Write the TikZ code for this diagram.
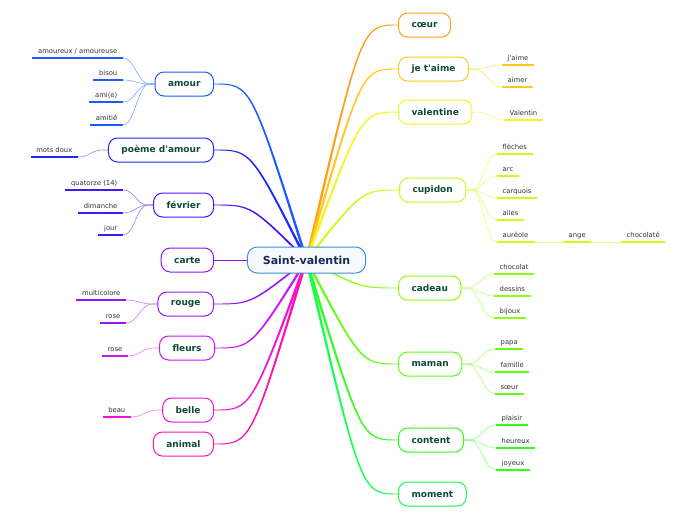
\documentclass[tikz,border=0pt]{standalone}
\usepackage{fontspec}
\setmainfont{DejaVu Sans}
\usetikzlibrary{calc}
\pgfdeclarelayer{bg}
\pgfsetlayers{bg,main}
\definecolor{nodetext}{HTML}{0E4A3A}
\definecolor{svtext}{HTML}{172A55}
\definecolor{svborder}{HTML}{3D8FD6}
\definecolor{svfill}{HTML}{F7FAFD}
\definecolor{leaftext}{HTML}{333333}
\definecolor{ccoeur}{HTML}{FF9F1C}
\definecolor{cjet}{HTML}{FFC81C}
\definecolor{cval}{HTML}{F5F520}
\definecolor{ccup}{HTML}{C8FF14}
\definecolor{ccad}{HTML}{8CFF14}
\definecolor{cmam}{HTML}{60FF14}
\definecolor{ccon}{HTML}{2EFF14}
\definecolor{cmom}{HTML}{14FF50}
\definecolor{camour}{HTML}{1E5AFF}
\definecolor{cpoeme}{HTML}{1E28FF}
\definecolor{cfev}{HTML}{4A14FF}
\definecolor{ccarte}{HTML}{8C14FF}
\definecolor{crouge}{HTML}{9A14FF}
\definecolor{cfleurs}{HTML}{CC14FF}
\definecolor{cbelle}{HTML}{F014DC}
\definecolor{canimal}{HTML}{FF14AA}
\tikzset{
  topic/.style={draw=#1, line width=1pt, rounded corners=9pt, fill=white,
    minimum height=24pt, inner xsep=13pt, inner ysep=0pt,
    font=\bfseries\fontsize{9}{11}\selectfont, text=nodetext},
  central/.style={draw=svborder, line width=1pt, rounded corners=10pt, fill=svfill,
    minimum height=26pt, inner xsep=15.5pt, font=\bfseries\fontsize{11}{13}\selectfont, text=svtext},
  leaf/.style={inner xsep=5.5pt, inner ysep=3pt, text height=5pt, text depth=1.5pt,
    font=\fontsize{6.8}{8}\selectfont, text=leaftext},
  uline/.style={draw=#1, line width=1.6pt},
  twig/.style={draw=#1!55, line width=0.6pt},
}
\newcommand\leafL[5]{%
  \node[leaf, anchor=south east] (#1) at (#2) {#3};
  \draw[uline=#4] (#1.south west) -- (#1.south east);
  \begin{pgfonlayer}{bg}
  \draw[twig=#4] (#5.west) -- ++(-5,0) .. controls +(-12,0) and +(12,0) .. (#1.south east);
  \end{pgfonlayer}}
\newcommand\leafR[5]{%
  \node[leaf, anchor=south west] (#1) at (#2) {#3};
  \draw[uline=#4] (#1.south west) -- (#1.south east);
  \begin{pgfonlayer}{bg}
  \draw[twig=#4] (#5.east) -- ++(5,0) .. controls +(12,0) and +(-12,0) .. (#1.south west);
  \end{pgfonlayer}}
\newcommand\mainbranch[4]{%
  \begin{pgfonlayer}{bg}
  \fill[#2] let \p1=(sv.center), \p2=(#1), \p3=({\x1+0.6*(\x2-\x1)},\y2) in
    ({\x1-(#3)*1.4pt},\y1) .. controls ({\x3-(#3)*0.55pt},{\y3+(#4)*0.55pt}) .. (\x2,{\y2+(#4)*0.45pt})
    -- (\x2,{\y2-(#4)*0.45pt}) .. controls ({\x3+(#3)*0.55pt},{\y3-(#4)*0.55pt}) .. ({\x1+(#3)*1.4pt},\y1) -- cycle;
  \end{pgfonlayer}}
\begin{document}
\begin{tikzpicture}[x=1pt,y=-1pt]
\begin{pgfonlayer}{bg}
\fill[white] (0,0) rectangle (696,520);
\end{pgfonlayer}
\useasboundingbox (0,0) rectangle (696,520);
% central
\node[central] (sv) at (306.5,260) {Saint-valentin};
% right topics
\node[topic=ccoeur, anchor=west] (coeur) at (398,25) {cœur};
\node[topic=cjet, anchor=west] (jet) at (398,69) {je t\textquotesingle aime};
\node[topic=cval, anchor=west] (val) at (398,112) {valentine};
\node[topic=ccup, anchor=west] (cup) at (399,190) {cupidon};
\node[topic=ccad, anchor=west] (cad) at (398,288) {cadeau};
\node[topic=cmam, anchor=west] (mam) at (398,364) {maman};
\node[topic=ccon, anchor=west] (con) at (398,440) {content};
\node[topic=cmom, anchor=west] (mom) at (398,494) {moment};
% left topics
\node[topic=camour, anchor=east] (amour) at (214,84) {amour};
\node[topic=cpoeme, anchor=east] (poeme) at (214,150) {poème d\textquotesingle amour};
\node[topic=cfev, anchor=east] (fev) at (214,205) {février};
\node[topic=ccarte, anchor=east] (carte) at (214,260) {carte};
\node[topic=crouge, anchor=east] (rouge) at (214,304) {rouge};
\node[topic=cfleurs, anchor=east] (fleurs) at (215,348) {fleurs};
\node[topic=cbelle, anchor=east] (belle) at (214,410) {belle};
\node[topic=canimal, anchor=east] (animal) at (214,444) {animal};
% main branches
\mainbranch{coeur.west}{ccoeur}{1}{1}
\mainbranch{jet.west}{cjet}{1}{1}
\mainbranch{val.west}{cval}{1}{1}
\mainbranch{cup.west}{ccup}{1}{1}
\mainbranch{cad.west}{ccad}{1}{-1}
\mainbranch{mam.west}{cmam}{1}{-1}
\mainbranch{con.west}{ccon}{1}{-1}
\mainbranch{mom.west}{cmom}{1}{-1}
\mainbranch{amour.east}{camour}{-1}{1}
\mainbranch{poeme.east}{cpoeme}{-1}{1}
\mainbranch{fev.east}{cfev}{-1}{1}
\mainbranch{rouge.east}{crouge}{-1}{-1}
\mainbranch{fleurs.east}{cfleurs}{-1}{-1}
\mainbranch{belle.east}{cbelle}{-1}{-1}
\mainbranch{animal.east}{canimal}{-1}{-1}
\begin{pgfonlayer}{bg}
\draw[ccarte, line width=1pt] (sv.center) -- (carte.east);
\end{pgfonlayer}
% left leaves
\leafL{a1}{123,58}{amoureux / amoureuse}{camour}{amour}
\leafL{a2}{123,80}{bisou}{camour}{amour}
\leafL{a3}{123,102}{ami(e)}{camour}{amour}
\leafL{a4}{123,125}{amitié}{camour}{amour}
\leafL{p1}{78,157}{mots doux}{cpoeme}{poeme}
\leafL{f1}{123,190}{quatorze (14)}{cfev}{fev}
\leafL{f2}{123,213}{dimanche}{cfev}{fev}
\leafL{f3}{123,235}{jour}{cfev}{fev}
\leafL{r1}{126,300}{multicolore}{crouge}{rouge}
\leafL{r2}{126,323}{rose}{crouge}{rouge}
\leafL{fl1}{128,356}{rose}{cfleurs}{fleurs}
\leafL{b1}{131,417}{beau}{cbelle}{belle}
% right leaves
\leafR{j1}{502,65}{j\textquotesingle aime}{cjet}{jet}
\leafR{j2}{502,87}{aimer}{cjet}{jet}
\leafR{v1}{504,120}{Valentin}{cval}{val}
\leafR{c1}{497,154}{flèches}{ccup}{cup}
\leafR{c2}{497,176}{arc}{ccup}{cup}
\leafR{c3}{497,198}{carquois}{ccup}{cup}
\leafR{c4}{497,220}{ailes}{ccup}{cup}
\leafR{c5}{497,242}{auréole}{ccup}{cup}
\node[leaf, anchor=south west] (c6) at (563,242) {ange};
\draw[uline=ccup] (c6.south west) -- (c6.south east);
\node[leaf, anchor=south west] (c7) at (621,242) {chocolaté};
\draw[uline=ccup] (c7.south west) -- (c7.south east);
\begin{pgfonlayer}{bg}
\draw[twig=ccup] (c5.south east) -- (c6.south west);
\draw[twig=ccup] (c6.south east) -- (c7.south west);
\end{pgfonlayer}
\leafR{d1}{494,274}{chocolat}{ccad}{cad}
\leafR{d2}{494,296}{dessins}{ccad}{cad}
\leafR{d3}{494,318}{bijoux}{ccad}{cad}
\leafR{m1}{495,349}{papa}{cmam}{mam}
\leafR{m2}{495,372}{famille}{cmam}{mam}
\leafR{m3}{495,394}{sœur}{cmam}{mam}
\leafR{n1}{496,425}{plaisir}{ccon}{con}
\leafR{n2}{496,448}{heureux}{ccon}{con}
\leafR{n3}{496,470}{joyeux}{ccon}{con}
\end{tikzpicture}
\end{document}
